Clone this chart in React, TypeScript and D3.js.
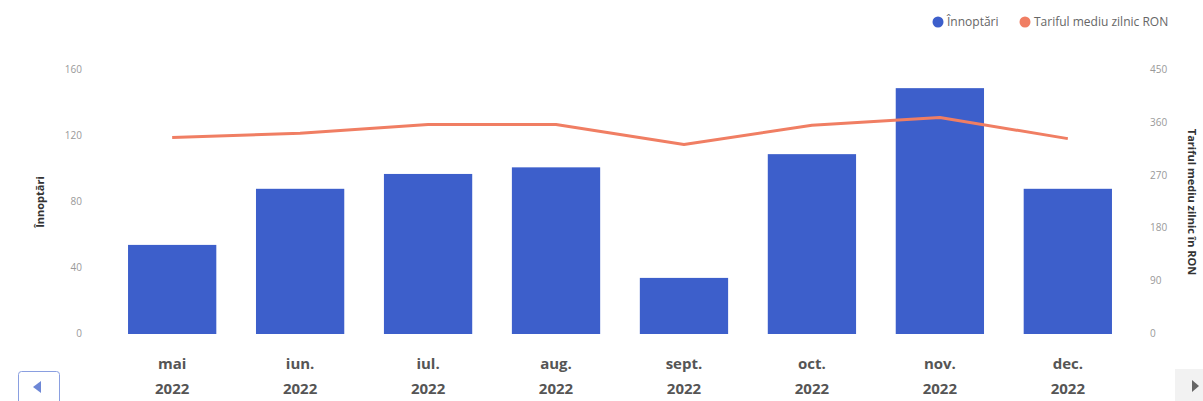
import * as d3 from "d3";
import React from "react";

const months = ["mai", "iun.", "iul.", "aug.", "sept.", "oct.", "nov.", "dec."];
const years = ["2022", "2022", "2022", "2022", "2022", "2022", "2022", "2022"];
const nights = [54, 88, 97, 101, 34, 109, 149, 88];
const avgRate = [335, 342, 357, 357, 323, 356, 369, 333];
const leftTicks = [0, 40, 80, 120, 160];
const rightTicks = [0, 90, 180, 270, 360, 450];

const W = 1203;
const H = 401;
const margin = { top: 70, right: 68, bottom: 67, left: 105 };
const barColor = "#3d5fcb";
const lineColor = "#f07e63";
const font = "'Open Sans', 'DejaVu Sans', sans-serif";

const App = (): JSX.Element => {
	const x = d3
		.scaleBand()
		.domain(months)
		.range([margin.left, W - margin.right])
		.paddingInner(0.31)
		.paddingOuter(0.18);
	const y = d3.scaleLinear().domain([0, 160]).range([H - margin.bottom, margin.top]);
	const y2 = d3.scaleLinear().domain([0, 450]).range([H - margin.bottom, margin.top]);

	// straight segments between the monthly points
	const line = d3
		.line<number>()
		.x((_, i) => x(months[i])! + x.bandwidth() / 2)
		.y((d) => y2(d));

	return (
		<svg width={W} height={H} style={{ position: "absolute", left: 0, top: 0, background: "#fff" }} fontFamily={font}>
			{/* legend */}
			<g fontSize={12} fill="#666">
				<circle cx={938} cy={22} r={5.5} fill={barColor} />
				<text x={947} y={26}>Înnoptări</text>
				<circle cx={1025} cy={22} r={5.5} fill={lineColor} />
				<text x={1034} y={26}>Tariful mediu zilnic RON</text>
			</g>

			{/* left axis */}
			<g fontSize={10} fill="#999" textAnchor="end">
				{leftTicks.map((t) => (
					<text key={t} x={82} y={y(t) + 3}>{t}</text>
				))}
			</g>
			<text
				transform={`translate(44,${(y(0) + y(160)) / 2}) rotate(-90)`}
				textAnchor="middle"
				fontSize={11}
				fontWeight="bold"
				fill="#333"
			>
				Înnoptări
			</text>

			{/* right axis */}
			<g fontSize={10} fill="#999" textAnchor="start">
				{rightTicks.map((t) => (
					<text key={t} x={1150} y={y2(t) + 3}>{t}</text>
				))}
			</g>
			<text
				transform={`translate(1188,${(y2(0) + y2(450)) / 2}) rotate(90)`}
				textAnchor="middle"
				fontSize={11}
				fontWeight="bold"
				fill="#333"
			>
				Tariful mediu zilnic în RON
			</text>

			{/* bars */}
			{nights.map((v, i) => (
				<rect
					key={months[i]}
					x={x(months[i])}
					y={y(v)}
					width={x.bandwidth()}
					height={y(0) - y(v)}
					fill={barColor}
				/>
			))}

			{/* line */}
			<path d={line(avgRate) ?? ""} fill="none" stroke={lineColor} strokeWidth={3} strokeLinejoin="round" />

			{/* x labels */}
			<g fontSize={15} fontWeight="bold" fill="#555" textAnchor="middle">
				{months.map((m, i) => (
					<text key={m} x={x(m)! + x.bandwidth() / 2} y={369}>
						<tspan x={x(m)! + x.bandwidth() / 2}>{m}</tspan>
						<tspan x={x(m)! + x.bandwidth() / 2} dy={25}>{years[i]}</tspan>
					</text>
				))}
			</g>

			{/* nav buttons */}
			<rect x={18.5} y={371.5} width={41} height={34} rx={3} fill="#fff" stroke="#8a9fe0" />
			<path d="M 33 387 L 41 381 L 41 393 Z" fill="#6d87d6" />
			<rect x={1175} y={369} width={30} height={34} fill="#f2f2f2" />
			<path d="M 1192 380 L 1199 386 L 1192 392 Z" fill="#666" />
		</svg>
	);
};

export default App;
